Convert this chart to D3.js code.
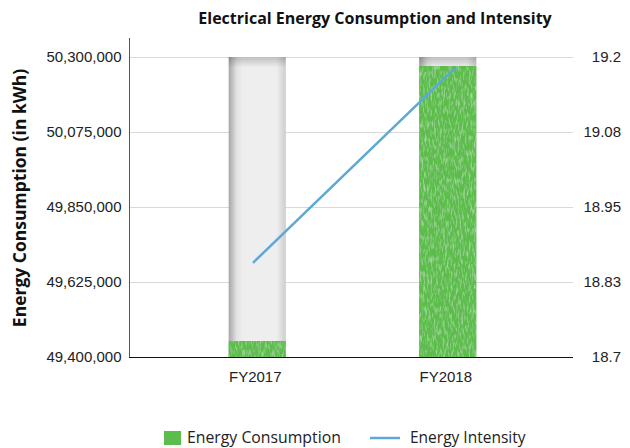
<!DOCTYPE html>
<html>
<head>
<meta charset="utf-8">
<script src="https://cdn.jsdelivr.net/npm/d3@7"></script>
<style>
  html, body { margin: 0; padding: 0; background: #fff; }
  svg { display: block; font-family: "Open Sans", "Noto Sans", sans-serif; }
</style>
</head>
<body>
<svg id="chart" width="630" height="448"></svg>
<script>
// Fiscal years on the category axis
const years = ["FY2017", "FY2018"];
// Electrical energy consumption, kWh
const consumption = [49448000, 50273000];
// Energy intensity
const intensity = [18.857, 19.183];
// Left axis ticks (kWh)
const leftTicks = [49400000, 49625000, 49850000, 50075000, 50300000];
// Right axis ticks and their printed labels
const rightTicks = [18.7, 18.825, 18.95, 19.075, 19.2];
const rightTickLabels = ["18.7", "18.83", "18.95", "19.08", "19.2"];

const svg = d3.select("#chart");
const plot = { left: 129, right: 573, top: 57, bottom: 357 };

const x = d3.scaleBand().domain(years).range([162, 543]).paddingInner(0.7).paddingOuter(0.35);
const xLine = d3.scalePoint().domain(years).range([253, 456]);
const yLeft = d3.scaleLinear().domain([49400000, 50300000]).range([plot.bottom, plot.top]);
const yRight = d3.scaleLinear().domain([18.7, 19.2]).range([plot.bottom, plot.top]);

const defs = svg.append("defs");
const hg = defs.append("linearGradient").attr("id", "trackH");
[["0%", "#a6a6a6"], ["14%", "#e2e2e2"], ["24%", "#eeeeee"], ["84%", "#eeeeee"], ["100%", "#cdcdcd"]]
  .forEach(([o, c]) => hg.append("stop").attr("offset", o).attr("stop-color", c));
const vg = defs.append("linearGradient").attr("id", "trackV").attr("x1", 0).attr("y1", 0).attr("x2", 0).attr("y2", 1);
[["0%", "#000", 0.2], ["3.5%", "#000", 0.0], ["100%", "#000", 0]]
  .forEach(([o, c, a]) => vg.append("stop").attr("offset", o).attr("stop-color", c).attr("stop-opacity", a));

// fine grain texture for the green bars
const tex = defs.append("filter").attr("id", "grain").attr("x", 0).attr("y", 0).attr("width", 1).attr("height", 1);
tex.append("feTurbulence").attr("type", "fractalNoise").attr("baseFrequency", "0.55 0.14")
  .attr("numOctaves", 2).attr("seed", 7).attr("result", "noise");
tex.append("feColorMatrix").attr("in", "noise").attr("type", "matrix")
  .attr("values", "0 0 0 0 0.74  0 0 0 0 0.9  0 0 0 0 0.7  1.7 0 0 0 -0.78").attr("result", "specks");
tex.append("feComponentTransfer").attr("in", "specks").attr("result", "soft")
  .append("feFuncA").attr("type", "linear").attr("slope", 0.65).attr("intercept", 0);
tex.append("feComposite").attr("in", "soft").attr("in2", "SourceAlpha").attr("operator", "in").attr("result", "clipped");
const merge = tex.append("feMerge");
merge.append("feMergeNode").attr("in", "SourceGraphic");
merge.append("feMergeNode").attr("in", "clipped");

// gridlines
svg.append("g").selectAll("line").data(leftTicks.slice(1)).join("line")
  .attr("x1", plot.left).attr("x2", plot.right)
  .attr("y1", d => Math.round(yLeft(d)) + 0.5).attr("y2", d => Math.round(yLeft(d)) + 0.5)
  .attr("stroke", "#d9d9d9").attr("stroke-width", 1);

// background tracks
const tracks = svg.append("g");
tracks.selectAll("rect.h").data(years).join("rect").attr("class", "h")
  .attr("x", d => x(d)).attr("width", x.bandwidth())
  .attr("y", yLeft(50300000)).attr("height", plot.bottom - yLeft(50300000))
  .attr("fill", "url(#trackH)");
tracks.selectAll("rect.v").data(years).join("rect").attr("class", "v")
  .attr("x", d => x(d)).attr("width", x.bandwidth())
  .attr("y", yLeft(50300000)).attr("height", plot.bottom - yLeft(50300000))
  .attr("fill", "url(#trackV)");

// consumption bars
svg.append("g").selectAll("rect").data(years).join("rect")
  .attr("x", d => x(d)).attr("width", x.bandwidth())
  .attr("y", (d, i) => yLeft(consumption[i]))
  .attr("height", (d, i) => plot.bottom - yLeft(consumption[i]))
  .attr("fill", "#5bbd4c").attr("filter", "url(#grain)");

// intensity line
svg.append("path")
  .datum(years.map((d, i) => [xLine(d), yRight(intensity[i])]))
  .attr("d", d3.line())
  .attr("fill", "none").attr("stroke", "#5ea8d5").attr("stroke-width", 2.5);

// left axis
const gl = svg.append("g").attr("transform", `translate(${plot.left + 0.5},0)`)
  .call(d3.axisLeft(yLeft).tickValues(leftTicks).tickSize(0).tickPadding(8).tickFormat(d3.format(",")));
gl.select(".domain").remove();
gl.selectAll("text").attr("font-size", 15).attr("fill", "#222").attr("font-family", null);
svg.append("line").attr("x1", plot.left + 0.5).attr("x2", plot.left + 0.5)
  .attr("y1", 38).attr("y2", plot.bottom).attr("stroke", "#555").attr("stroke-width", 1);

// right axis
const gr = svg.append("g").attr("transform", `translate(621,0)`)
  .call(d3.axisLeft(yRight).tickValues(rightTicks).tickSize(0).tickPadding(0)
    .tickFormat((d, i) => rightTickLabels[i]));
gr.select(".domain").remove();
gr.selectAll("text").attr("font-size", 15).attr("fill", "#222").attr("font-family", null);

// bottom axis
const gb = svg.append("g").attr("transform", `translate(0,${plot.bottom})`)
  .call(d3.axisBottom(x).tickSize(0).tickPadding(14));
gb.select(".domain").remove();
gb.selectAll("text").attr("font-size", 15).attr("fill", "#222").attr("font-family", null)
  .attr("dx", -2);
svg.append("line").attr("x1", plot.left).attr("x2", plot.right)
  .attr("y1", plot.bottom + 0.5).attr("y2", plot.bottom + 0.5).attr("stroke", "#111").attr("stroke-width", 1.2);

// title
svg.append("text").attr("x", 375).attr("y", 24).attr("text-anchor", "middle")
  .attr("font-size", 16).attr("font-weight", "bold").attr("fill", "#111")
  .text("Electrical Energy Consumption and Intensity");

// left axis title
svg.append("text").attr("transform", "translate(26,198) rotate(-90)")
  .attr("text-anchor", "middle").attr("font-size", 17.5).attr("font-weight", "bold").attr("fill", "#111")
  .text("Energy Consumption (in kWh)");

// legend
const lg = svg.append("g");
lg.append("rect").attr("x", 164).attr("y", 431).attr("width", 17).attr("height", 14).attr("fill", "#5bbd4c");
lg.append("text").attr("x", 187).attr("y", 443).attr("font-size", 15.8).attr("fill", "#222").text("Energy Consumption");
lg.append("line").attr("x1", 370).attr("x2", 400).attr("y1", 438).attr("y2", 438)
  .attr("stroke", "#5ea8d5").attr("stroke-width", 2.5);
lg.append("text").attr("x", 410).attr("y", 443).attr("font-size", 15.5).attr("fill", "#222").text("Energy Intensity");
</script>
</body>
</html>
